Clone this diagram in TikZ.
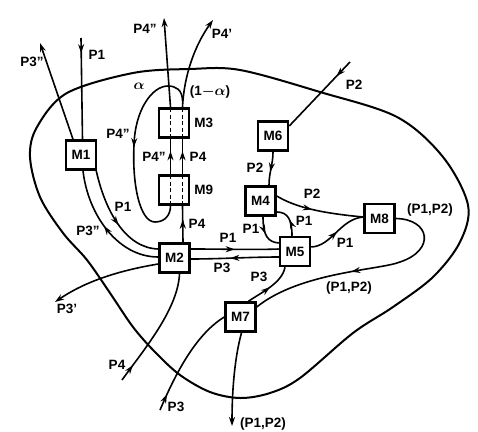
\documentclass[tikz,border=0pt]{standalone}
\usepackage{bm}
\usepackage{fontspec}
\setmainfont{Liberation Sans}
\usetikzlibrary{arrows.meta,decorations.markings,calc}
\begin{document}
\begin{tikzpicture}[x=1pt,y=-1pt,
  font=\fontsize{13.5}{13.5}\selectfont\bfseries,
  mbox/.style={draw,line width=2.5pt,minimum width=30pt,minimum height=29pt,inner sep=0pt},
  flow/.style={line width=1.6pt},
  tip/.style={-{Stealth[length=9pt,width=6pt]}},
  ma/.style={postaction={decorate,decoration={markings,mark=at position #1 with {\arrow{Stealth[length=9pt,width=6pt]}}}}},
  lbl/.style={inner sep=0pt},
  dsh/.style={line width=1.4pt,dash pattern=on 4pt off 2.5pt},
  outl/.style={line width=2pt}
]
\useasboundingbox (0,0) rectangle (478,431);
\fill[white] (0,0) rectangle (478,431);

% outline
\draw[outl] plot[smooth cycle, tension=0.55] coordinates {
 (30,157) (40,197) (63,233) (87,260) (110,293) (133,327) (155,352) (180,375)
 (210,392) (240,398) (270,393) (300,378) (353,333) (393,307) (433,277)
 (460,242) (468,205) (443,157) (397,117) (320,92) (240,70) (190,69)
 (133,73) (67,93) (37,127)};

% machines
\node[mbox] (M1) at (81,155) {M1};
\node[mbox] (M3) at (174,123) {};
\node[mbox] (M9) at (174,190) {};
\node[mbox] (M6) at (273,136) {M6};
\node[mbox] (M4) at (260.5,201) {M4};
\node[mbox] (M5) at (295,251.5) {M5};
\node[mbox] (M8) at (379.5,218.5) {M8};
\node[mbox] (M2) at (174.5,258) {M2};
\node[mbox] (M7) at (240.5,317) {M7};
\node[lbl,anchor=west] (M3l) at ([xshift=4pt]M3.east) {M3};
\node[lbl,anchor=west] (M9l) at ([xshift=4pt]M9.east) {M9};

% dashed lines inside M3, M9
\draw[dsh] ([xshift=-3.5pt,yshift=-1pt]M3.north) -- ([xshift=-3.5pt,yshift=1pt]M3.south);
\draw[dsh] ([xshift=8.5pt,yshift=-1pt]M3.north) -- ([xshift=8.5pt,yshift=1pt]M3.south);
\draw[dsh] ([xshift=-3.5pt,yshift=-1pt]M9.north) -- ([xshift=-3.5pt,yshift=1pt]M9.south);
\draw[dsh] ([xshift=8.5pt,yshift=-1pt]M9.north) -- ([xshift=8.5pt,yshift=1pt]M9.south);

% free ends
\coordinate (p1in) at (81,38);
\coordinate (p3top) at (40,43);
\coordinate (p3p) at (55,302);
\coordinate (p4in) at (122,380);
\coordinate (p4dd) at (164,18);
\coordinate (p4d) at (213,20);
\coordinate (p2in) at (350,62);
\coordinate (p3in) at (160,410);
\coordinate (pout) at (232,426);
\coordinate (br) at (182.5,101);

% M1 flows
\draw[flow,ma=0.15] (p1in) -- ([xshift=1.5pt]M1.north);
\draw[flow,tip] ([xshift=-8pt]M1.north) -- (p3top);
\draw[flow,ma=0.55] ([xshift=-1pt]M1.south east) .. controls (105,210) and (125,248) .. ([yshift=9pt]M2.west);
\draw[flow,ma=0.52] ([yshift=1pt]M2.west) .. controls (118,257) and (88,215) .. ([xshift=2pt]M1.south);
\draw[flow,tip] ([yshift=-6pt]M2.west) .. controls (110,272) and (80,285) .. (p3p);

% M2 flows
\draw[flow,ma=0.15] (p4in) .. controls (142,352) and (178,310) .. ([xshift=5pt]M2.south);
\draw[flow,ma=0.62] ([xshift=8.5pt]M2.north) -- ([xshift=8.5pt]M9.south);
\draw[flow,ma=0.5] ([yshift=9pt]M2.east) .. controls (230,249) and (250,250) .. ([yshift=2.5pt]M5.west);
\draw[flow,ma=0.55] ([yshift=-5.5pt]M5.west) .. controls (250,257) and (220,259) .. ([yshift=-1pt]M2.east);

% M9 -> M3
\draw[flow,ma=0.65] ([xshift=-3.5pt]M9.north) -- ([xshift=-3.5pt]M3.south);
\draw[flow,ma=0.65] ([xshift=8.5pt]M9.north) -- ([xshift=8.5pt]M3.south);

% above M3
\draw[flow,tip] ([xshift=-3.5pt]M3.north) -- (p4dd);
\draw[flow,tip] ([xshift=8.5pt]M3.north) .. controls (184,75) and (195,45) .. (p4d);
\draw[flow,ma=0.48] (br) .. controls (182.5,90) and (176,86) .. (168,86)
   .. controls (152,86) and (135,110) .. (134,145)
   .. controls (132,185) and (140,222) .. (155,222)
   .. controls (165,222) and (170.5,215) .. ([xshift=-3.5pt]M9.south);

% M6 flows
\draw[flow,ma=0.22] (p2in) -- ([yshift=10pt]M6.east);
\draw[flow,ma=0.6] (M6.south) .. controls (273,165) and (269,172) .. ([xshift=8.5pt]M4.north);

% M4 / M5 / M8
\draw[flow,ma=0.42] ([yshift=5pt]M4.east) .. controls (295,207) and (320,213) .. ([yshift=1.5pt]M8.west);
\draw[flow,ma=0.5] ([xshift=2.5pt]M4.south) .. controls (263,236) and (268,242) .. ([yshift=8.5pt]M5.west);
\draw[flow,ma=0.5] ([xshift=-3pt]M5.north) .. controls (292,220) and (288,212) .. ([yshift=-11pt]M4.east);
\draw[flow,ma=0.5] ([yshift=4.5pt]M5.east) .. controls (332,246) and (340,219) .. ([yshift=1.5pt]M8.west);

% M7 flows
\draw[flow,ma=0.15] (p3in) .. controls (175,375) and (195,335) .. (M7.west);
\draw[flow,ma=0.5] ([xshift=8pt]M7.north) .. controls (262,292) and (282,283) .. ([xshift=-10pt]M5.south);
\draw[flow,ma=0.55] (M8.east) .. controls (430,219) and (436,250) .. (400,262)
   .. controls (380,270) and (300,272) .. ([yshift=10pt]M7.east);
\draw[flow,tip] ([xshift=1pt]M7.south) .. controls (234,360) and (232,395) .. (pout);

% labels
\node[lbl] (l1) at (97,55) {P1};
\node[lbl] (l2) at (32,62) {P3''};
\node[lbl] (l3) at (123,207) {P1};
\node[lbl] (l4) at (88,231) {P3''};
\node[lbl] (l5) at (67,309) {P3'};
\node[lbl] (l6) at (117,365) {P4};
\node[lbl] (l7) at (197,224) {P4};
\node[lbl] (l8) at (154,157) {P4''};
\node[lbl] (l9) at (198,157) {P4};
\node[lbl] (l10) at (145,29) {P4''};
\node[lbl] (l11) at (222,34) {P4'};
\node[lbl] (l12) at (139,86) {$\bm{\alpha}$};
\node[lbl] (l13) at (210,92) {(1$\bm{-}\bm{\alpha}$)};
\node[lbl] (l14) at (118,134) {P4''};
\node[lbl] (l15) at (228,238) {P1};
\node[lbl] (l16) at (222,268) {P3};
\node[lbl] (l17) at (354,85) {P2};
\node[lbl] (l18) at (255,168) {P2};
\node[lbl] (l19) at (312,194) {P2};
\node[lbl] (l20) at (345,243) {P1};
\node[lbl] (l21) at (251,229) {P1};
\node[lbl] (l22) at (304,221) {P1};
\node[lbl] (l23) at (259,277) {P3};
\node[lbl] (l24) at (176,407) {P3};
\node[lbl] (l25) at (430,210) {(P1,P2)};
\node[lbl] (l26) at (349,288) {(P1,P2)};
\node[lbl] (l27) at (263,424) {(P1,P2)};
\end{tikzpicture}
\end{document}
